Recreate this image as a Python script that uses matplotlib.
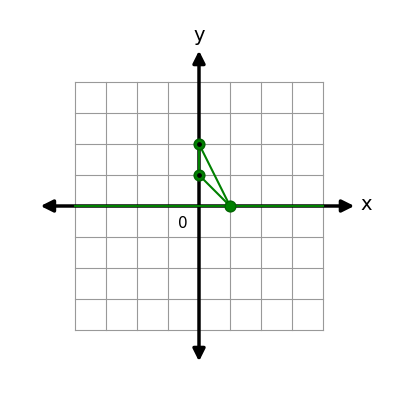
import numpy as np
import matplotlib.pyplot as plt

# points on the graph
px = [0, 0, 1]
py = [2, 1, 0]
# segments: pairs of point indices
segs = [(0, 1), (0, 2), (1, 2)]
line_x = [-4, 4]
line_y = [0, 0]

fig = plt.figure(figsize=(4, 4), dpi=100)
ax = fig.add_axes([0, 0, 1, 1])
# pixel mapping: origin at (199,206), 31 px per unit
s = 31.0
ax.set_xlim(-199 / s, (400 - 199) / s)
ax.set_ylim(-(400 - 206) / s, 206 / s)
ax.axis('off')

for g in range(-4, 5):
    ax.plot([g, g], [-4, 4], color='#999999', lw=0.8, zorder=1)
    ax.plot([-4, 4], [g, g], color='#999999', lw=0.8, zorder=1)

ax.annotate('', xy=(5.1, 0), xytext=(-5.2, 0),
            arrowprops=dict(arrowstyle='<|-|>', color='black', lw=2.5, mutation_scale=18), zorder=3)
ax.annotate('', xy=(0, 5.1), xytext=(0, -5.1),
            arrowprops=dict(arrowstyle='<|-|>', color='black', lw=2.5, mutation_scale=18), zorder=3)

ax.plot(line_x, line_y, color='green', lw=1.5, zorder=4)
for a, b in segs:
    ax.plot([px[a], px[b]], [py[a], py[b]], color='green', lw=1.5, zorder=4)
ax.scatter(px, py, s=60, color='green', edgecolors='darkgreen', zorder=5)
ax.scatter(px[:2], py[:2], s=6, color='black', zorder=6)

ax.text(5.2, 0.05, 'x', fontsize=14, ha='left', va='center')
ax.text(0, 5.2, 'y', fontsize=14, ha='center', va='bottom')
ax.text(-0.52, -0.55, '0', fontsize=11, ha='center', va='center')

fig.savefig('out.png')
